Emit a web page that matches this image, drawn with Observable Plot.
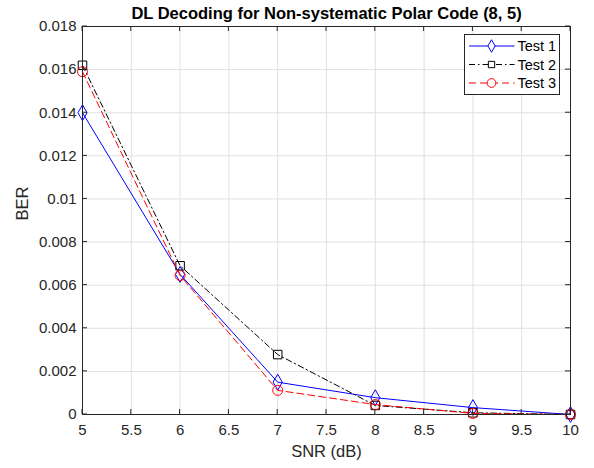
<!DOCTYPE html>
<html>
<head>
<meta charset="utf-8">
<script src="https://cdn.jsdelivr.net/npm/d3@7"></script>
<script src="https://cdn.jsdelivr.net/npm/@observablehq/plot@0.6"></script>
<style>
  html, body { margin: 0; padding: 0; background: #fff; }
  svg { font-family: "Liberation Sans", Arial, sans-serif; }
</style>
</head>
<body>
<div id="chart"></div>
<script>
const snr = [5, 6, 7, 8, 9, 10];
const test1 = [0.0140, 0.0065, 0.00150, 0.00078, 0.00032, 0.0];
const test2 = [0.0162, 0.0069, 0.00278, 0.00042, 0.00008, 0.0];
const test3 = [0.0159, 0.00645, 0.00112, 0.00046, 0.00005, 0.0];
const seriesNames = ["Test 1", "Test 2", "Test 3"];
const seriesColors = ["#0000ff", "#000000", "#ff0000"];
const seriesSymbols = ["diamond", "square", "circle"];
const seriesDash = [null, "6,3,1.5,3", "7,4"];
const xTicks = [5, 5.5, 6, 6.5, 7, 7.5, 8, 8.5, 9, 9.5, 10];
const yTicks = [0, 0.002, 0.004, 0.006, 0.008, 0.01, 0.012, 0.014, 0.016, 0.018];
const title = "DL Decoding for Non-systematic Polar Code (8, 5)";

const allSeries = [test1, test2, test3];
const rows = [];
allSeries.forEach((vals, i) => vals.forEach((v, j) => rows.push({snr: snr[j], ber: v, series: seriesNames[i]})));

const axisColor = "#262626";
const marks = [
  Plot.gridX(xTicks, {stroke: "#e0e0e0", strokeOpacity: 1}),
  Plot.gridY(yTicks, {stroke: "#e0e0e0", strokeOpacity: 1}),
];
seriesNames.forEach((name, i) => {
  const d = rows.filter(r => r.series === name);
  marks.push(Plot.line(d, {x: "snr", y: "ber", stroke: seriesColors[i], strokeWidth: 1, strokeDasharray: seriesDash[i]}));
  marks.push(Plot.dot(d, {x: "snr", y: "ber", stroke: seriesColors[i], symbol: seriesSymbols[i], r: seriesSymbols[i] === "circle" ? 5 : 4.8, strokeWidth: 1, fill: "none"}));
});
marks.push(
  Plot.frame({stroke: axisColor, strokeWidth: 1}),
  Plot.axisX(xTicks, {anchor: "bottom", tickSize: 0, tickPadding: 10, fontSize: 15, color: axisColor, label: null, tickFormat: d => String(d)}),
  Plot.axisY(yTicks, {anchor: "left", tickSize: 0, tickPadding: 6, fontSize: 15, color: axisColor, label: null, tickFormat: d => String(d)}),
  Plot.text([title], {frameAnchor: "top", dy: -19, text: d => d, fontWeight: "bold", fontSize: 16.5, fill: "#000"}),
  Plot.text(["SNR (dB)"], {frameAnchor: "bottom", dy: 42, text: d => d, fontSize: 16.5, fill: axisColor}),
  Plot.text(["BER"], {frameAnchor: "left", dx: -60, rotate: -90, text: d => d, fontSize: 16.5, fill: axisColor})
);

const chart = Plot.plot({
  width: 594,
  height: 468,
  marginLeft: 82,
  marginRight: 24,
  marginTop: 26,
  marginBottom: 54,
  style: {fontFamily: "'Liberation Sans', Arial, sans-serif", background: "#fff"},
  x: {domain: [5, 10], type: "linear"},
  y: {domain: [0, 0.018], type: "linear"},
  marks
});
document.getElementById("chart").appendChild(chart);

// inward ticks on all four sides, plus legend
const svg = d3.select(chart);
const L = 82, R = 594 - 24, T = 26, B = 468 - 54;
const xs = d3.scaleLinear([5, 10], [L, R]);
const ys = d3.scaleLinear([0, 0.018], [B, T]);
const g = svg.append("g").attr("stroke", axisColor).attr("stroke-width", 1);
xTicks.forEach(t => {
  g.append("line").attr("x1", xs(t)).attr("x2", xs(t)).attr("y1", B).attr("y2", B - 5);
  g.append("line").attr("x1", xs(t)).attr("x2", xs(t)).attr("y1", T).attr("y2", T + 5);
});
yTicks.forEach(t => {
  g.append("line").attr("y1", ys(t)).attr("y2", ys(t)).attr("x1", L).attr("x2", L + 5);
  g.append("line").attr("y1", ys(t)).attr("y2", ys(t)).attr("x1", R).attr("x2", R - 5);
});

const lg = svg.append("g").attr("transform", "translate(464.5,34.5)");
lg.append("rect").attr("width", 95).attr("height", 60).attr("fill", "#fff").attr("stroke", axisColor).attr("stroke-width", 1);
const symGen = {diamond: d3.symbolDiamond, square: d3.symbolSquare, circle: d3.symbolCircle};
seriesNames.forEach((name, i) => {
  const yy = 11.5 + i * 18.5;
  lg.append("line").attr("x1", 4.5).attr("x2", 50).attr("y1", yy).attr("y2", yy)
    .attr("stroke", seriesColors[i]).attr("stroke-width", 1).attr("stroke-dasharray", seriesDash[i]);
  const size = seriesSymbols[i] === "circle" ? 60 : (seriesSymbols[i] === "square" ? 40 : 45);
  lg.append("path").attr("d", d3.symbol(symGen[seriesSymbols[i]], size)()).attr("transform", `translate(27,${yy})`)
    .attr("fill", "#fff").attr("stroke", seriesColors[i]).attr("stroke-width", 1);
  lg.append("text").attr("x", 53).attr("y", yy).attr("dy", "0.35em").attr("text-anchor", "start")
    .attr("font-size", 14.5).attr("fill", "#000").text(name);
});
</script>
</body>
</html>
